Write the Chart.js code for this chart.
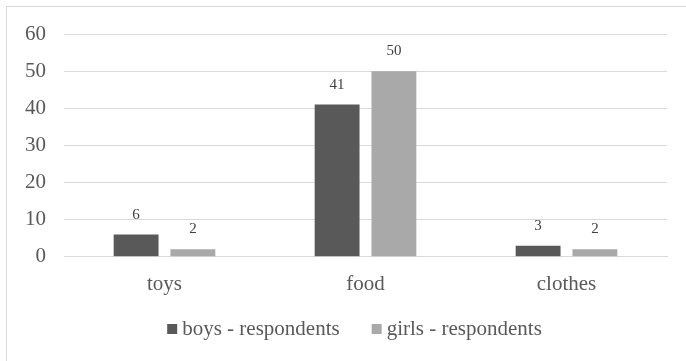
<!DOCTYPE html>
<html>
<head>
<meta charset="utf-8">
<script src="https://cdn.jsdelivr.net/npm/chart.js@4/dist/chart.umd.min.js"></script>
<style>
  html, body { margin: 0; padding: 0; background: #fff; }
  #wrap { width: 686px; height: 361px; position: relative; }
</style>
</head>
<body>
<div id="wrap"><canvas id="c" width="686" height="361"></canvas></div>
<script>
const categories = ['toys', 'food', 'clothes'];
const seriesNames = ['boys - respondents', 'girls - respondents'];
const boys = [6, 41, 3];
const girls = [2, 50, 2];
const yTicks = [0, 10, 20, 30, 40, 50, 60];

const serif = '"Liberation Serif", "Times New Roman", serif';
const textColor = '#595959';

// Frame around the chart (right and bottom edges run past the canvas)
const framePlugin = {
  id: 'frame',
  afterDraw(chart) {
    const ctx = chart.ctx;
    ctx.save();
    ctx.strokeStyle = '#d9d9d9';
    ctx.lineWidth = 1;
    ctx.strokeRect(6.5, 6.5, 700, 400);
    ctx.restore();
  }
};

// Value labels above each bar
const valueLabels = {
  id: 'valueLabels',
  afterDatasetsDraw(chart) {
    const ctx = chart.ctx;
    ctx.save();
    ctx.font = '15px ' + serif;
    ctx.fillStyle = '#404040';
    ctx.textAlign = 'center';
    ctx.textBaseline = 'alphabetic';
    chart.data.datasets.forEach((ds, i) => {
      chart.getDatasetMeta(i).data.forEach((bar, j) => {
        ctx.fillText(String(ds.data[j]), bar.x, bar.y - 16);
      });
    });
    ctx.restore();
  }
};

// Compact legend: small square swatch set close to its label
const compactLegend = {
  id: 'compactLegend',
  afterDraw(chart) {
    const ctx = chart.ctx;
    const box = 10, gap = 5, spacing = 32;
    const cx = 354.5, baseline = 335;
    ctx.save();
    ctx.font = '21px ' + serif;
    const items = chart.data.datasets.map(ds => ({
      text: ds.label, color: ds.backgroundColor, w: ctx.measureText(ds.label).width
    }));
    const total = items.reduce((s, it) => s + box + gap + it.w, 0) + spacing * (items.length - 1);
    let x = cx - total / 2;
    ctx.textBaseline = 'alphabetic';
    ctx.textAlign = 'left';
    items.forEach(it => {
      ctx.fillStyle = it.color;
      ctx.fillRect(x, baseline - 11, box, box);
      x += box + gap;
      ctx.fillStyle = textColor;
      ctx.fillText(it.text, x, baseline);
      x += it.w + spacing;
    });
    ctx.restore();
  }
};

new Chart(document.getElementById('c'), {
  type: 'bar',
  data: {
    labels: categories,
    datasets: [
      { label: seriesNames[0], data: boys, backgroundColor: '#595959',
        categoryPercentage: 0.565, barPercentage: 0.79 },
      { label: seriesNames[1], data: girls, backgroundColor: '#a9a9a9',
        categoryPercentage: 0.565, barPercentage: 0.79 }
    ]
  },
  options: {
    responsive: false,
    animation: false,
    layout: { padding: { left: 7, right: 19, top: 34, bottom: 57 } },
    plugins: {
      legend: { display: false },
      tooltip: { enabled: false }
    },
    scales: {
      x: {
        grid: { display: false },
        border: { color: '#d9d9d9' },
        ticks: { font: { family: serif, size: 21 }, color: textColor, padding: 7 }
      },
      y: {
        min: 0,
        max: 60,
        afterBuildTicks(axis) { axis.ticks = yTicks.map(v => ({ value: v })); },
        grid: { color: '#d9d9d9', drawTicks: false },
        border: { display: false },
        ticks: { font: { family: serif, size: 21 }, color: textColor, padding: 18 }
      }
    }
  },
  plugins: [framePlugin, valueLabels, compactLegend]
});
</script>
</body>
</html>
